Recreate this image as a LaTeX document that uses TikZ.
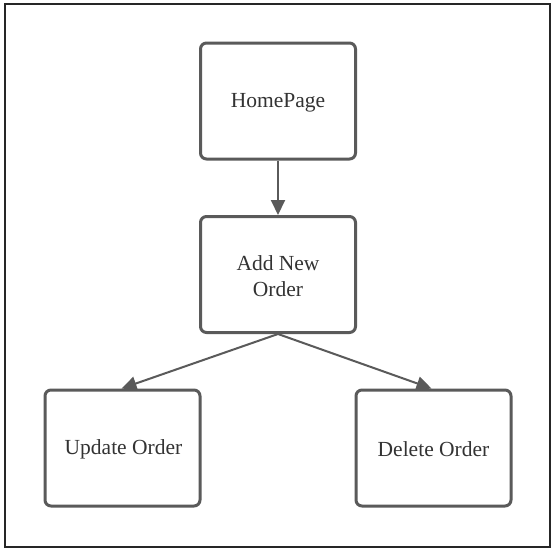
\documentclass[tikz,border=0pt]{standalone}
\usepackage{fontspec}
\setmainfont{Liberation Serif}
\usetikzlibrary{arrows.meta}
\definecolor{boxline}{RGB}{90,90,90}
\definecolor{txt}{RGB}{51,51,51}
\begin{document}
\begin{tikzpicture}[x=1pt,y=-1pt,
  box/.style={draw=boxline, line width=3pt, rounded corners=6pt, minimum width=155pt, minimum height=116pt, align=center, font=\fontsize{21.5}{26}\selectfont, text=txt, inner sep=0pt},
  lbl/.style={align=center, font=\fontsize{21.5}{26}\selectfont, text=txt, inner sep=0pt},
  conn/.style={draw=boxline, line width=2pt, -{Triangle[length=15pt,width=14pt]}}]
\useasboundingbox (0,0) rectangle (556,552);
\fill[white] (0,0) rectangle (556,552);
\draw[line width=1.2pt, draw=black!85] (5,4) rectangle (550,547);
\node[box] (home) at (278,101) {};
\node[box] (add) at (278,274.5) {};
\node[box] (upd) at (122.5,448) {};
\node[box] (del) at (433.5,448) {};
\node[lbl] (homet) at (278,103) {HomePage};
\node[lbl] (addt) at (278,276) {Add New\\Order};
\node[lbl] (updt) at (123.5,449.5) {Update Order};
\node[lbl] (delt) at (433.5,449.5) {Delete Order};
\draw[conn] (home.south) -- (add.north);
\draw[conn] (add.south) -- ([xshift=78pt]upd.north west);
\draw[conn] (add.south) -- ([xshift=77pt]del.north west);
\end{tikzpicture}
\end{document}
